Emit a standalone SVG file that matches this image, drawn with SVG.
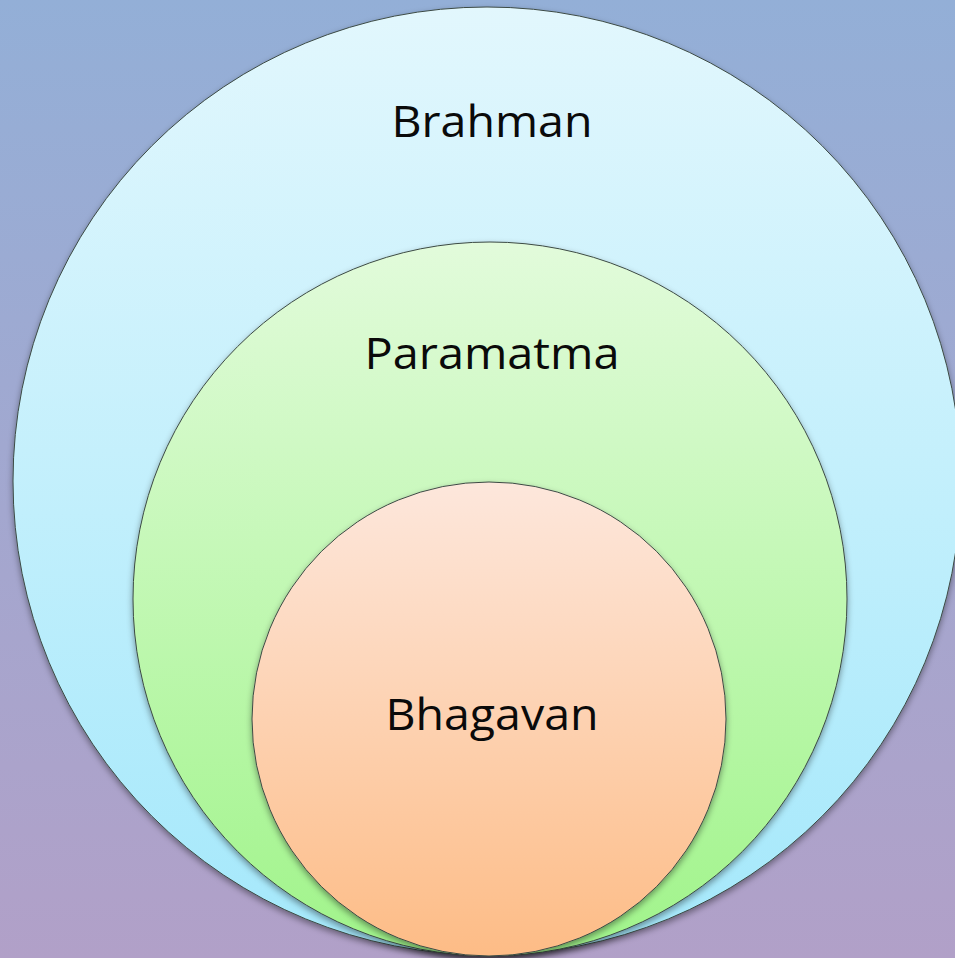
<svg xmlns="http://www.w3.org/2000/svg" width="955" height="958" viewBox="0 0 955 958">
  <defs>
    <linearGradient id="bg" x1="0" y1="0" x2="0" y2="1">
      <stop offset="0" stop-color="#93afd7"/>
      <stop offset="1" stop-color="#b1a0c8"/>
    </linearGradient>
    <linearGradient id="gOuter" x1="0" y1="0" x2="0" y2="1">
      <stop offset="0" stop-color="#e2f7fd"/>
      <stop offset="1" stop-color="#a4e8fb"/>
    </linearGradient>
    <linearGradient id="gMid" x1="0" y1="0" x2="0" y2="1">
      <stop offset="0" stop-color="#e2fbdb"/>
      <stop offset="1" stop-color="#a0f48a"/>
    </linearGradient>
    <linearGradient id="gInner" x1="0" y1="0" x2="0" y2="1">
      <stop offset="0" stop-color="#fde7dc"/>
      <stop offset="1" stop-color="#fdbc86"/>
    </linearGradient>
    <filter id="shadow" x="-10%" y="-10%" width="120%" height="125%">
      <feDropShadow dx="0" dy="3" stdDeviation="3" flood-color="#000" flood-opacity="0.4"/>
    </filter>
  </defs>
  <style>
    .ring { stroke: #3c4a44; stroke-width: 1; filter: url(#shadow); }
    .label { font-family: "Open Sans", "Noto Sans", "Liberation Sans", sans-serif; font-size: 44px; fill: #0a0a0a; text-anchor: middle; }
  </style>
  <rect x="0" y="0" width="955" height="958" fill="url(#bg)"/>
  <g id="brahman">
    <circle class="ring" cx="487" cy="481" r="474" fill="url(#gOuter)"/>
    <text class="label" x="492" y="137" textLength="201" lengthAdjust="spacingAndGlyphs">Brahman</text>
  </g>
  <g id="paramatma">
    <circle class="ring" cx="490" cy="599" r="357" fill="url(#gMid)"/>
    <text class="label" x="492" y="369" textLength="255" lengthAdjust="spacingAndGlyphs">Paramatma</text>
  </g>
  <g id="bhagavan">
    <circle class="ring" cx="489" cy="719" r="237" fill="url(#gInner)"/>
    <text class="label" x="492" y="730" textLength="213" lengthAdjust="spacingAndGlyphs">Bhagavan</text>
  </g>
  <g id="connectors"/>
</svg>
